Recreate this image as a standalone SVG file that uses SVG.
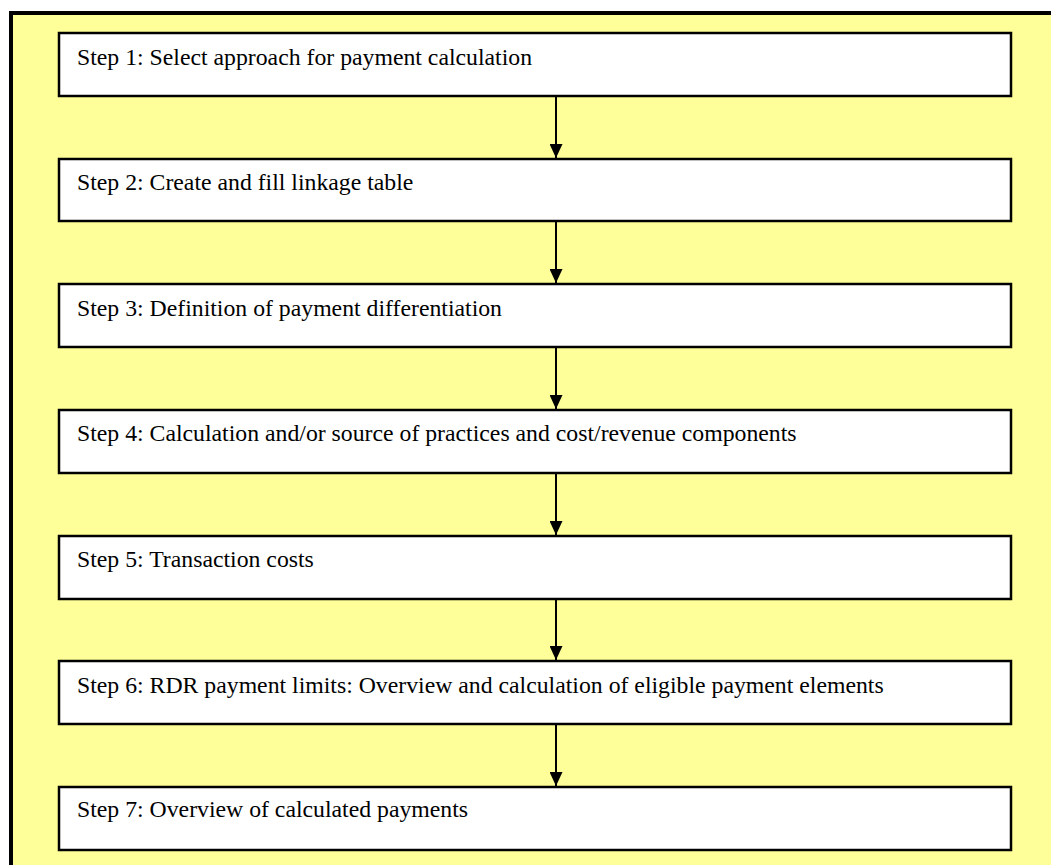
<svg xmlns="http://www.w3.org/2000/svg" width="1051" height="865" viewBox="0 0 1051 865">
  <style>
    .step rect { fill: #ffffff; stroke: #000000; stroke-width: 2.5; }
    .step text { font-family: "Liberation Serif", "Times New Roman", serif; font-size: 23.75px; fill: #000000; }
    .conn line { stroke: #000000; stroke-width: 2; }
  </style>
  <defs>
    <marker id="arrow" viewBox="0 0 14 13" refX="14" refY="6.5" markerWidth="14" markerHeight="13" markerUnits="userSpaceOnUse" orient="auto">
      <path d="M0,0 L14,6.5 L0,13 Z" fill="#000000"/>
    </marker>
  </defs>

  <!-- background panel with heavy left/top rule -->
  <rect x="11" y="13" width="1040" height="852" fill="#ffff99"/>
  <path d="M11,865 L11,13 L1051,13" fill="none" stroke="#000000" stroke-width="4"/>

  <g id="step1" class="step">
    <rect x="59" y="33" width="952" height="63"/>
    <text x="77" y="65">Step 1: Select approach for payment calculation</text>
  </g>
  <g id="step2" class="step">
    <rect x="59" y="159" width="952" height="62"/>
    <text x="77" y="190">Step 2: Create and fill linkage table</text>
  </g>
  <g id="step3" class="step">
    <rect x="59" y="284" width="952" height="63"/>
    <text x="77" y="316">Step 3: Definition of payment differentiation</text>
  </g>
  <g id="step4" class="step">
    <rect x="59" y="410" width="952" height="63"/>
    <text x="77" y="441">Step 4: Calculation and/or source of practices and cost/revenue components</text>
  </g>
  <g id="step5" class="step">
    <rect x="59" y="536" width="952" height="63"/>
    <text x="77" y="567">Step 5: Transaction costs</text>
  </g>
  <g id="step6" class="step">
    <rect x="59" y="661" width="952" height="63"/>
    <text x="77" y="693">Step 6: RDR payment limits: Overview and calculation of eligible payment elements</text>
  </g>
  <g id="step7" class="step">
    <rect x="59" y="787" width="952" height="63"/>
    <text x="77" y="817">Step 7: Overview of calculated payments</text>
  </g>

  <g id="connectors" class="conn">
    <line x1="556" y1="96" x2="556" y2="158" marker-end="url(#arrow)"/>
    <line x1="556" y1="221" x2="556" y2="283" marker-end="url(#arrow)"/>
    <line x1="556" y1="347" x2="556" y2="409" marker-end="url(#arrow)"/>
    <line x1="556" y1="473" x2="556" y2="535" marker-end="url(#arrow)"/>
    <line x1="556" y1="599" x2="556" y2="660" marker-end="url(#arrow)"/>
    <line x1="556" y1="724" x2="556" y2="786" marker-end="url(#arrow)"/>
  </g>
</svg>
